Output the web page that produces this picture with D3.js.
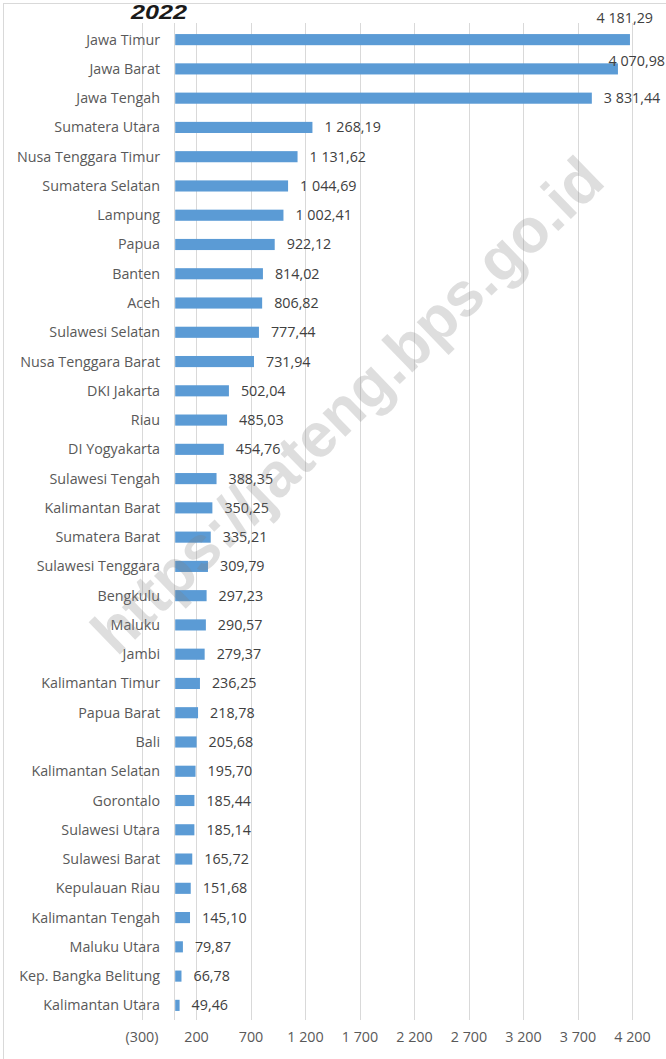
<!DOCTYPE html>
<html>
<head>
<meta charset="utf-8">
<script src="https://cdn.jsdelivr.net/npm/d3@7"></script>
<style>
  html, body { margin: 0; padding: 0; background: #fff; }
  svg { display: block; }
</style>
</head>
<body>
<svg id="chart" width="666" height="1059"></svg>
<script>
const categories = [
  "Jawa Timur", "Jawa Barat", "Jawa Tengah", "Sumatera Utara", "Nusa Tenggara Timur",
  "Sumatera Selatan", "Lampung", "Papua", "Banten", "Aceh", "Sulawesi Selatan",
  "Nusa Tenggara Barat", "DKI Jakarta", "Riau", "DI Yogyakarta", "Sulawesi Tengah",
  "Kalimantan Barat", "Sumatera Barat", "Sulawesi Tenggara", "Bengkulu", "Maluku",
  "Jambi", "Kalimantan Timur", "Papua Barat", "Bali", "Kalimantan Selatan", "Gorontalo",
  "Sulawesi Utara", "Sulawesi Barat", "Kepulauan Riau", "Kalimantan Tengah",
  "Maluku Utara", "Kep. Bangka Belitung", "Kalimantan Utara"
];
const values = [
  4181.29, 4070.98, 3831.44, 1268.19, 1131.62,
  1044.69, 1002.41, 922.12, 814.02, 806.82, 777.44,
  731.94, 502.04, 485.03, 454.76, 388.35,
  350.25, 335.21, 309.79, 297.23, 290.57,
  279.37, 236.25, 218.78, 205.68, 195.70, 185.44,
  185.14, 165.72, 151.68, 145.10,
  79.87, 66.78, 49.46
];
const xTicks = [-300, 200, 700, 1200, 1700, 2200, 2700, 3200, 3700, 4200];
const titleText = "2022";
const watermarkText = "https://jateng.bps.go.id";

const W = 666, H = 1059;
const FONT = "'Open Sans', Lato, sans-serif";
const FS = 14.3;
const svg = d3.select("#chart");

const loc = d3.formatLocale({ decimal: ",", thousands: " ", grouping: [3], currency: ["", ""] });
const fInt = loc.format(",d");
const fVal = loc.format(",.2f");

const x = d3.scaleLinear().domain([-300, 4200]).range([141.5, 632]);
const y = d3.scaleBand().domain(categories).range([25, 1020]).paddingInner(0.62).paddingOuter(0.31);

// frame
svg.append("rect").attr("x", 3.5).attr("y", 3.5).attr("width", 800).attr("height", 1200)
  .attr("fill", "none").attr("stroke", "#d9d9d9").attr("stroke-width", 1);

// gridlines
const gridTop = 23, gridBottom = 1020;
svg.append("g").selectAll("line").data(xTicks).join("line")
  .attr("x1", d => Math.round(x(d)) + 0.5).attr("x2", d => Math.round(x(d)) + 0.5)
  .attr("y1", gridTop).attr("y2", gridBottom)
  .attr("stroke", "#d9d9d9").attr("stroke-width", 1);

// category axis line at 0
svg.append("line")
  .attr("x1", Math.round(x(0)) + 0.5).attr("x2", Math.round(x(0)) + 0.5)
  .attr("y1", gridTop).attr("y2", gridBottom)
  .attr("stroke", "#d9d9d9").attr("stroke-width", 1);

// bars
svg.append("g").selectAll("rect").data(values).join("rect")
  .attr("x", x(0) + 1)
  .attr("y", (d, i) => y(categories[i]))
  .attr("width", d => Math.max(0, x(d) - x(0) - 1))
  .attr("height", y.bandwidth())
  .attr("fill", "#5b9bd5");

// category labels
svg.append("g").selectAll("text").data(categories).join("text")
  .attr("x", 160)
  .attr("y", d => y(d) + y.bandwidth() / 2)
  .attr("dy", "0.35em")
  .attr("text-anchor", "end")
  .attr("font-family", FONT)
  .attr("font-size", FS)
  .attr("fill", "#595959")
  .text(d => d);

// value labels
svg.append("g").selectAll("text").data(values).join("text")
  .attr("x", (d, i) => {
    if (i === 0) return 653;
    if (i === 1) return 665;
    return x(d) + 12;
  })
  .attr("y", (d, i) => {
    const cy = y(categories[i]) + y.bandwidth() / 2;
    if (i === 0) return cy - 22;
    if (i === 1) return cy - 8;
    return cy;
  })
  .attr("dy", "0.35em")
  .attr("text-anchor", (d, i) => i <= 1 ? "end" : "start")
  .attr("font-family", FONT)
  .attr("font-size", FS)
  .attr("fill", "#404040")
  .text(d => fVal(d));

// x axis tick labels
const xAxis = d3.axisBottom(x).tickValues(xTicks)
  .tickFormat(d => d < 0 ? "(" + fInt(-d) + ")" : fInt(d))
  .tickSize(0).tickPadding(0);
const gx = svg.append("g").attr("transform", "translate(0,1032)").call(xAxis);
gx.select(".domain").remove();
gx.selectAll("text")
  .attr("font-family", FONT)
  .attr("font-size", FS)
  .attr("fill", "#595959");

// title (at the very top edge)
svg.append("text")
  .attr("x", 131).attr("y", 18.5)
  .attr("font-family", "'Liberation Sans', Arial, sans-serif")
  .attr("font-weight", "bold").attr("font-style", "italic")
  .attr("font-size", 20)
  .attr("textLength", 56)
  .attr("lengthAdjust", "spacingAndGlyphs")
  .attr("fill", "#1a1a1a")
  .text(titleText);

// watermark
svg.append("text")
  .attr("transform", "translate(347,405) rotate(-44)")
  .attr("text-anchor", "middle")
  .attr("dy", "0.35em")
  .attr("font-family", "'Liberation Sans', Arial, sans-serif")
  .attr("font-weight", "bold")
  .attr("font-size", 62)
  .attr("fill", "#808080")
  .attr("fill-opacity", 0.26)
  .text(watermarkText);
</script>
</body>
</html>
